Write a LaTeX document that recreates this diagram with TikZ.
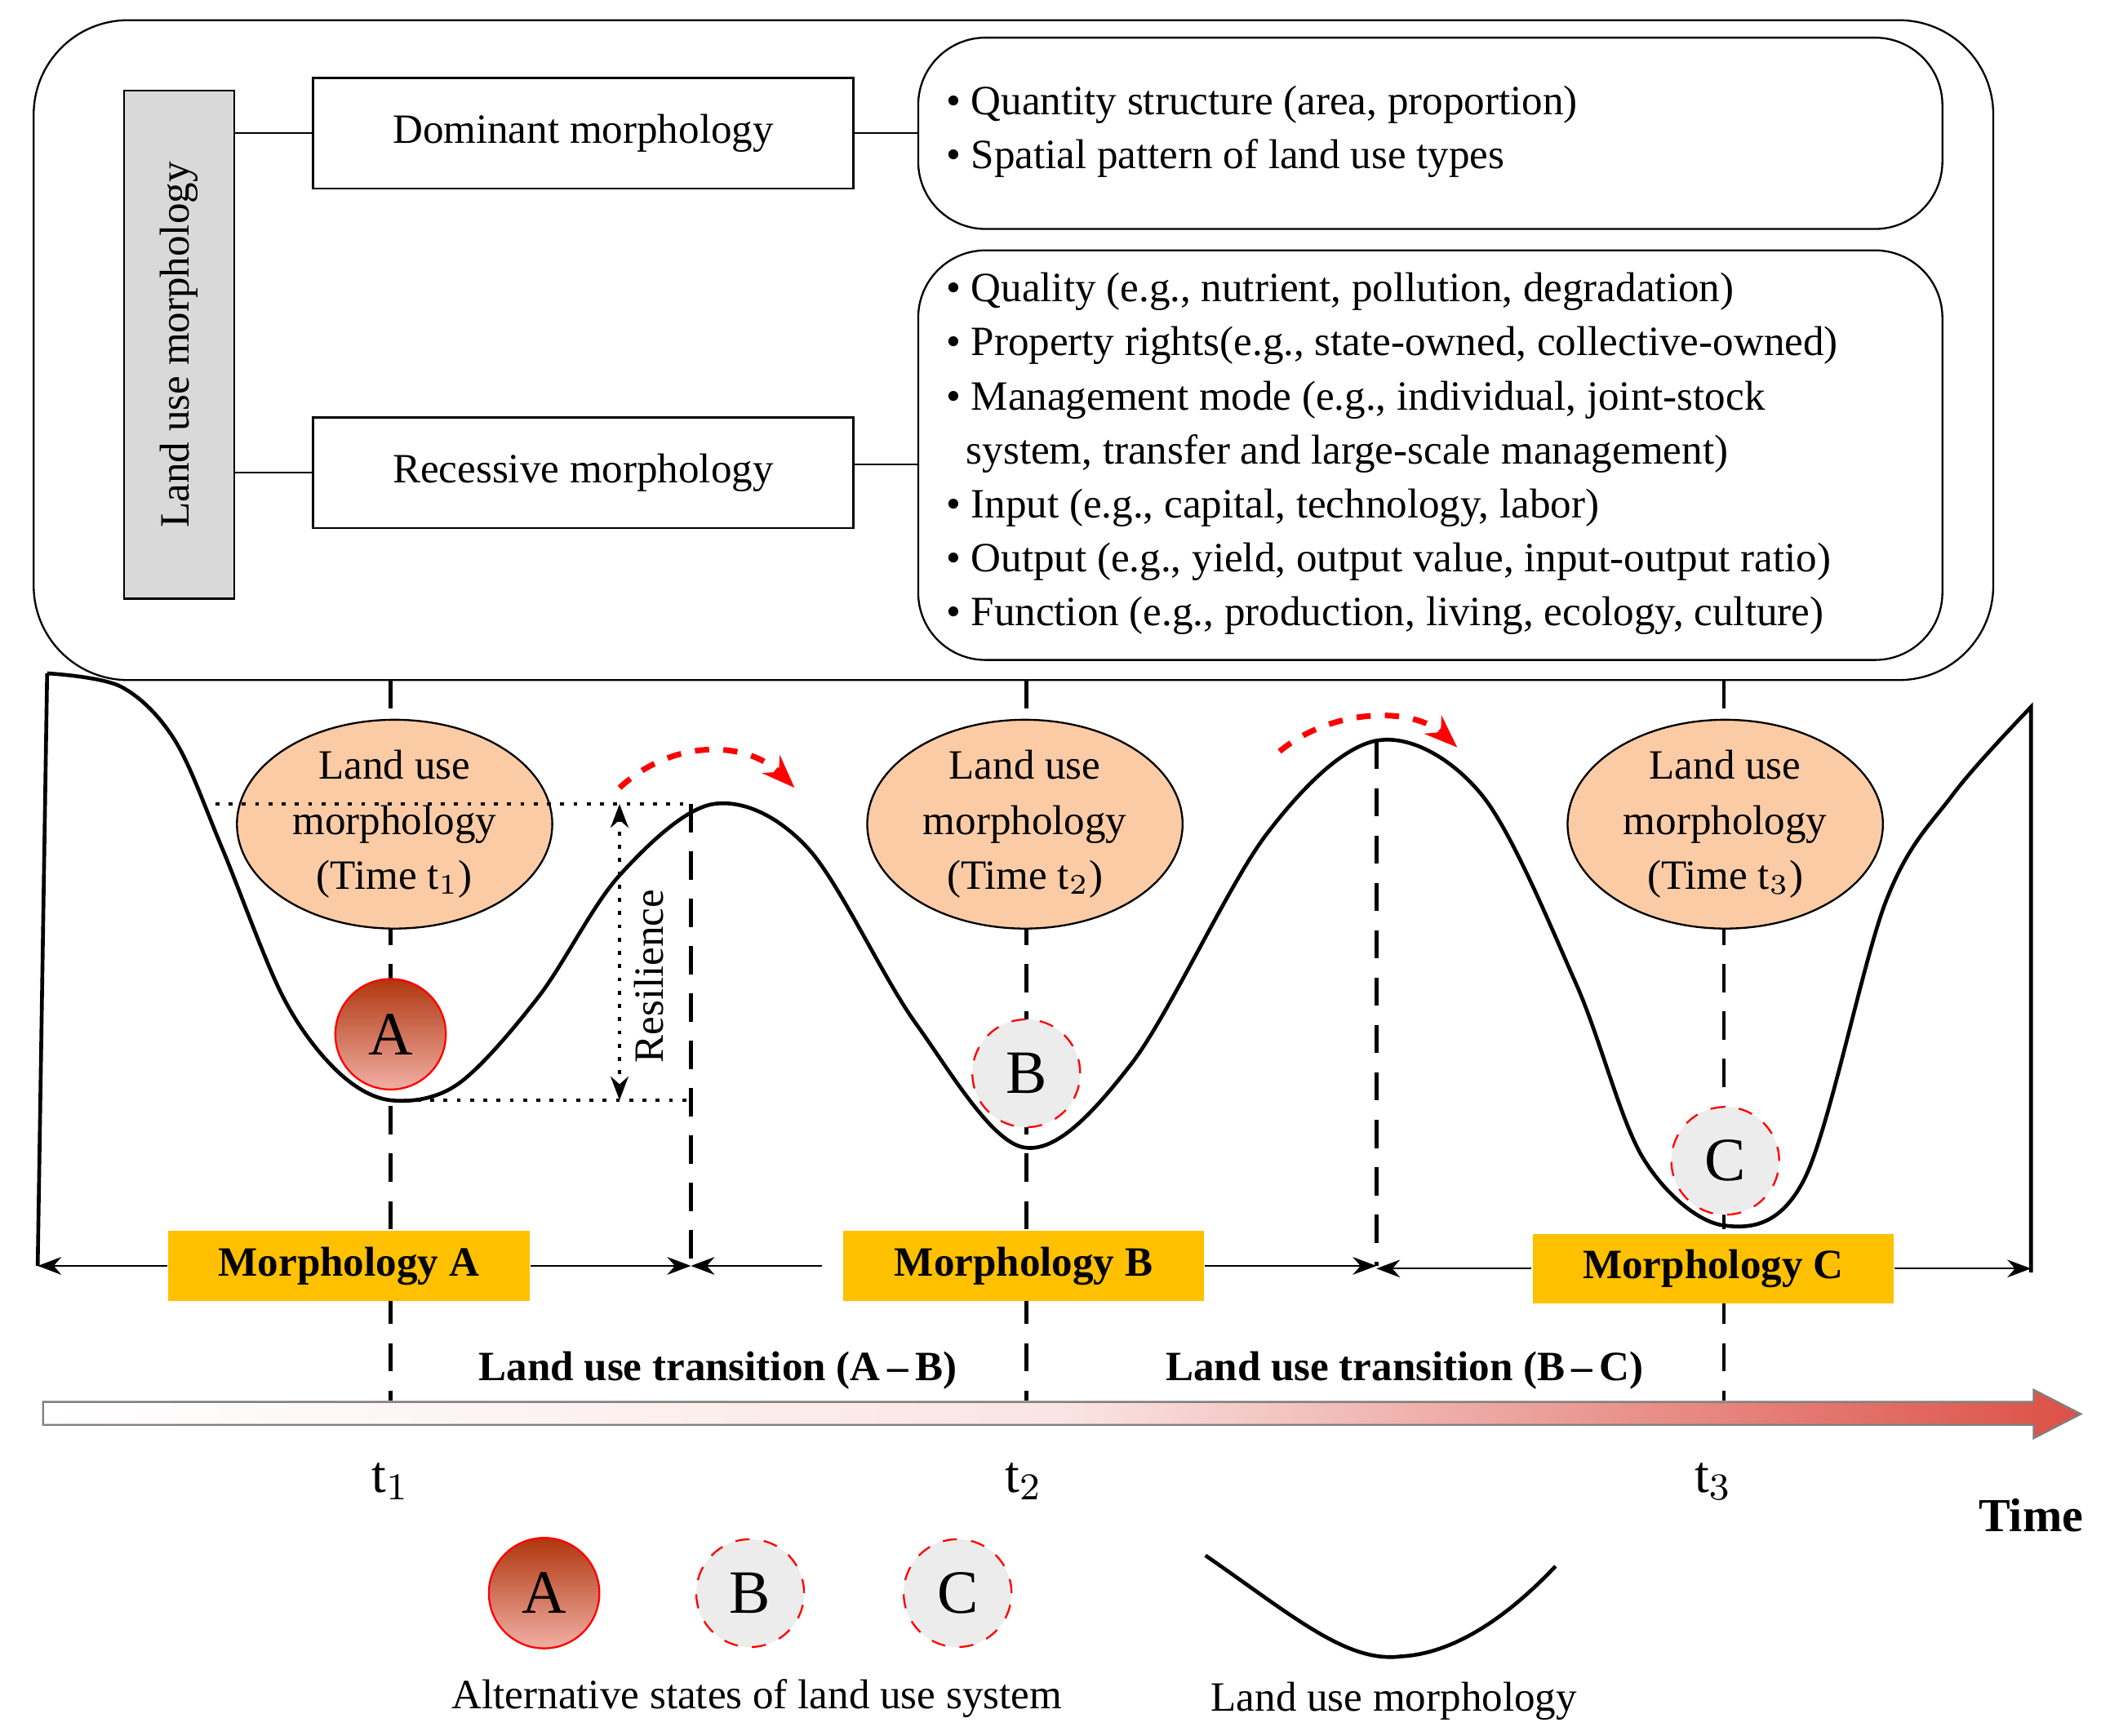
\documentclass[tikz,border=0pt]{standalone}
\usepackage{fontspec}
\setmainfont{Liberation Serif}
\usetikzlibrary{shapes.geometric,arrows.meta}
\definecolor{peach}{RGB}{251,203,165}
\definecolor{ygold}{RGB}{255,192,0}
\definecolor{tred}{RGB}{220,80,70}
\definecolor{abrown}{RGB}{175,55,15}
\definecolor{apink}{RGB}{242,175,165}
\begin{document}
\begin{tikzpicture}[x=0.01cm,y=-0.01cm,
  every node/.style={font=\fontsize{8.8}{11.4}\selectfont},
  box/.style={draw,minimum width=4.01cm,minimum height=0.82cm},
  ell/.style={ellipse,draw,fill=peach,minimum width=2.34cm,minimum height=1.2cm,align=center,inner sep=0pt,font=\fontsize{8.8}{11.6}\selectfont},
  stA/.style={circle,draw=red,minimum size=0.82cm,inner sep=0pt,top color=abrown,bottom color=apink,font=\fontsize{13}{13}\selectfont},
  stB/.style={circle,draw=red,dashed,fill=gray!15,minimum size=0.8cm,inner sep=0pt,font=\fontsize{13}{13}\selectfont},
  morph/.style={fill=ygold,minimum width=2.68cm,minimum height=0.46cm,font=\bfseries\fontsize{8.8}{10}\selectfont},
  vd/.style={dashed,dash pattern=on 6pt off 4pt,thick},
  harr/.style={-{Stealth[length=5pt]}}]
\useasboundingbox (0,0) rectangle (1560,1289);
% top panel
\draw[rounded corners=0.7cm] (25,15) rectangle (1480,505);
\node[draw,fill=gray!30,minimum width=0.82cm,minimum height=3.77cm] (lum) at (133,256) {};
\node[rotate=90] at (133,256) {Land use morphology};
\node[box] (dom) at (433,99) {Dominant morphology};
\node[box] (rec) at (433,351) {Recessive morphology};
\node[draw,rounded corners=0.5cm,minimum width=7.6cm,minimum height=1.42cm] (b1) at (1062,99) {};
\node[draw,rounded corners=0.5cm,minimum width=7.6cm,minimum height=3.04cm] (b2) at (1062,338) {};
\draw (lum.east |- dom) -- (dom.west);
\draw (lum.east |- rec) -- (rec.west);
\draw (dom.east) -- (dom.east -| b1.west);
\draw (rec.east |- 0,345) -- (682,345);
\node[anchor=west,align=left] at (690,98) {• Quantity structure (area, proportion)\\• Spatial pattern of land use types};
\node[anchor=west,align=left] at (690,337) {• Quality (e.g., nutrient, pollution, degradation)\\• Property rights(e.g., state-owned, collective-owned)\\• Management mode (e.g., individual, joint-stock\\\hspace*{0.15cm}system, transfer and large-scale management)\\• Input (e.g., capital, technology, labor)\\• Output (e.g., yield, output value, input-output ratio)\\• Function (e.g., production, living, ecology, culture)};
% vertical dashed
\draw[vd] (290,505) -- (290,1040);
\draw[vd] (762,505) -- (762,1040);
\draw[vd] (1280,505) -- (1280,1040);
\draw[vd] (513,597) -- (513,940);
\draw[vd] (1022,550) -- (1022,940);
% curve
\draw[thick] (28,940) -- (35,500) plot[smooth,tension=0.55] coordinates {(35,500) (90,510) (130,550) (165,630) (210,740) (250,795) (290,817) (340,805) (400,740) (460,650) (530,597) (600,630) (680,760) (760,852) (840,790) (940,620) (1022,550) (1100,590) (1170,730) (1220,860) (1280,910) (1340,875) (1400,670) (1450,590) (1508,525)} -- (1508,945);
% ellipses
\node[ell] (e1) at (293,612) {Land use\\morphology\\(Time t$_1$)};
\node[ell] (e2) at (761,612) {Land use\\morphology\\(Time t$_2$)};
\node[ell] (e3) at (1281,612) {Land use\\morphology\\(Time t$_3$)};
% states
\node[stA] (A) at (290,768) {A};
\node[stB] (B) at (762,797) {B};
\node[stB] (C) at (1281,862) {C};
% resilience
\draw[dotted,thick] (160,597) -- (513,597);
\draw[dotted,thick] (290,817) -- (513,817);
\draw[dotted,thick,{Stealth[length=5pt]}-{Stealth[length=5pt]}] (460,597) -- (460,817);
\node[rotate=90] at (482,725) {Resilience};
% red arrows
\draw[red,very thick,dashed,-{Stealth[length=7pt]}] (460,585) .. controls (500,548) and (555,550) .. (590,585);
\draw[red,very thick,dashed,-{Stealth[length=7pt]}] (950,558) .. controls (990,525) and (1050,525) .. (1082,555);
% morphology boxes
\node[morph] (mA) at (259,940) {Morphology A};
\node[morph] (mB) at (760,940) {Morphology B};
\node[morph] (mC) at (1272,942) {Morphology C};
\coordinate (p0) at (28,940); \coordinate (p1) at (513,940); \coordinate (p2) at (1022,942); \coordinate (p3) at (1508,942);
\draw[harr] (mA.west) -- (p0);
\draw[harr] (mA.east) -- (p1);
\draw[harr] (610,940) -- (p1);
\draw[harr] (mB.east) -- (1022,940);
\draw[harr] (mC.west) -- (p2);
\draw[harr] (mC.east) -- (p3);
% timeline
\shade[draw=gray,left color=white,right color=tred,middle color=white!85!tred] (32,1041) -- (1510,1041) -- (1510,1032) -- (1545,1050) -- (1510,1068) -- (1510,1058) -- (32,1058) -- cycle;
\node[font=\bfseries\fontsize{8.8}{10}\selectfont] at (533,1018) {Land use transition (A\,–\,B)};
\node[font=\bfseries\fontsize{8.8}{10}\selectfont] at (1043,1018) {Land use transition (B\,–\,C)};
\node[font=\fontsize{11}{12}\selectfont] at (290,1100) {t$_1$};
\node[font=\fontsize{11}{12}\selectfont] at (760,1100) {t$_2$};
\node[font=\fontsize{11}{12}\selectfont] at (1272,1100) {t$_3$};
\node[font=\bfseries\fontsize{10}{12}\selectfont] at (1508,1125) {Time};
% legend
\node[stA] (lA) at (404,1183) {A};
\node[stB] (lB) at (557,1183) {B};
\node[stB] (lC) at (711,1183) {C};
\draw[thick] (895,1155) .. controls (960,1200) and (1000,1235) .. (1040,1230) .. controls (1080,1228) and (1120,1200) .. (1155,1163);
\node at (562,1261) {Alternative states of land use system};
\node at (1035,1263) {Land use morphology};
\end{tikzpicture}
\end{document}
